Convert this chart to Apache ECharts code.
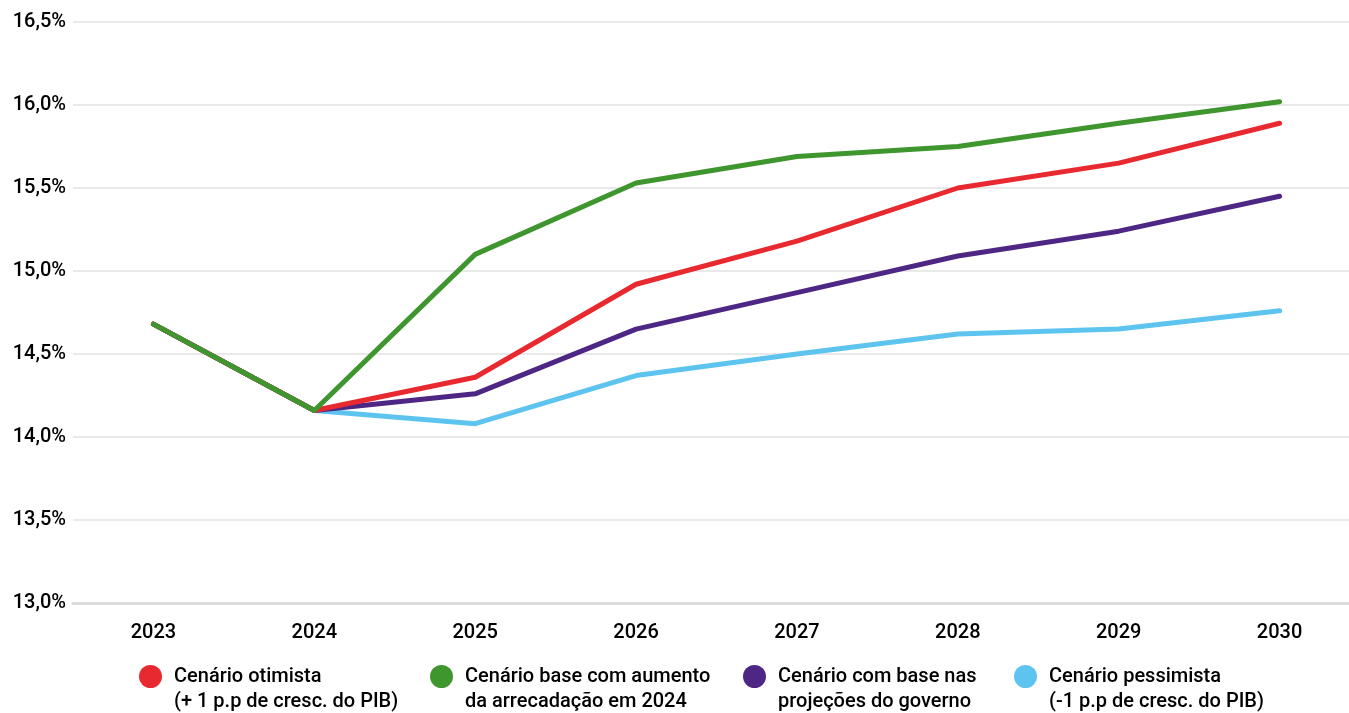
<!DOCTYPE html>
<html style="height: 100%">
<head>
    <meta charset="UTF-8">
    <title>Cenários</title>
    <script src="https://cdn.jsdelivr.net/npm/echarts/dist/echarts.min.js"></script>
    <style>
        #main { height: 100%; }
    </style>
</head>
<body style="height: 100%; margin: 0; background: #fff">
    <div id="main"></div>
    <script type="text/javascript">
        var years = ['2023', '2024', '2025', '2026', '2027', '2028', '2029', '2030'];
        var otimista = [14.68, 14.16, 14.36, 14.92, 15.18, 15.50, 15.65, 15.89];
        var base = [14.68, 14.16, 15.10, 15.53, 15.69, 15.75, 15.89, 16.02];
        var governo = [14.68, 14.16, 14.26, 14.65, 14.87, 15.09, 15.24, 15.45];
        var pessimista = [14.68, 14.16, 14.08, 14.37, 14.50, 14.62, 14.65, 14.76];

        var names = [
            'Cenário otimista\n(+ 1 p.p de cresc. do PIB)',
            'Cenário base com aumento\nda arrecadação em 2024',
            'Cenário com base nas\nprojeções do governo',
            'Cenário pessimista\n(-1 p.p de cresc. do PIB)'
        ];
        var colors = ['#e8292f', '#3f962f', '#4e2784', '#5dc4ef'];
        var font = 'Roboto';

        var chartDom = document.getElementById('main');
        var myChart = echarts.init(chartDom);

        function line(i, data, z) {
            return {
                name: names[i],
                type: 'line',
                data: data,
                z: z,
                symbol: 'none',
                lineStyle: { color: colors[i], width: 5, cap: 'round', join: 'round' },
                itemStyle: { color: colors[i] }
            };
        }

        // first text line sits level with the dot, second line below it
        function legend(i, left) {
            return {
                data: [{ name: names[i], icon: 'circle' }],
                left: left,
                top: 639,
                padding: 0,
                itemWidth: 23,
                itemHeight: 23,
                itemGap: 0,
                selectedMode: false,
                formatter: function (name) { return '\n' + name; },
                textStyle: {
                    fontFamily: font,
                    fontSize: 20,
                    fontWeight: 500,
                    color: '#000',
                    lineHeight: 25,
                    padding: [0, 0, 0, 7]
                }
            };
        }

        var option = {
            animation: false,
            grid: { left: 73, top: 22, width: 1287, height: 581, outerBoundsMode: 'none', containLabel: false },
            legend: [legend(0, 139), legend(1, 430), legend(2, 743), legend(3, 1014)],
            xAxis: {
                type: 'category',
                data: years,
                boundaryGap: true,
                axisLine: { lineStyle: { color: '#dcdcdc', width: 3 } },
                axisTick: { alignWithLabel: true, length: 8, lineStyle: { color: '#dcdcdc', width: 2 } },
                axisLabel: {
                    margin: 20,
                    fontFamily: font,
                    fontSize: 20,
                    fontWeight: 500,
                    color: '#000'
                }
            },
            yAxis: {
                type: 'value',
                min: 13,
                max: 16.5,
                interval: 0.5,
                axisLine: { show: false },
                axisTick: { show: false },
                splitLine: { lineStyle: { color: '#e2e2e2', width: 1.5 } },
                axisLabel: {
                    margin: 7,
                    fontFamily: font,
                    fontSize: 20,
                    fontWeight: 500,
                    color: '#000',
                    formatter: function (v) { return v.toFixed(1).replace('.', ',') + '%'; }
                }
            },
            series: [
                line(3, pessimista, 2),
                line(2, governo, 3),
                line(0, otimista, 4),
                line(1, base, 5)
            ]
        };

        myChart.setOption(option);
    </script>
</body>
</html>
